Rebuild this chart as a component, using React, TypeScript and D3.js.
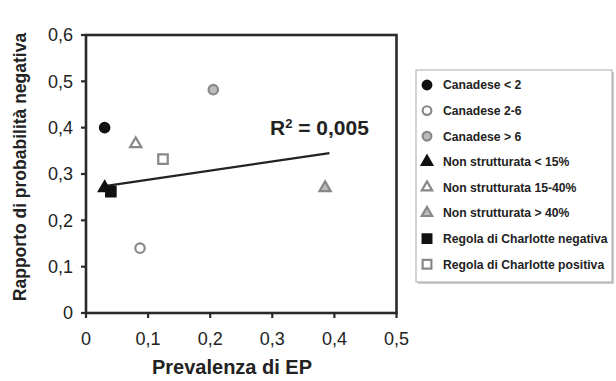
import React from "react";
import * as d3 from "d3";

const seriesNames = [
  "Canadese < 2",
  "Canadese 2-6",
  "Canadese > 6",
  "Non strutturata < 15%",
  "Non strutturata 15-40%",
  "Non strutturata > 40%",
  "Regola di Charlotte negativa",
  "Regola di Charlotte positiva",
];
const prevalence = [0.03, 0.087, 0.205, 0.03, 0.08, 0.385, 0.04, 0.124];
const negRatio = [0.4, 0.14, 0.482, 0.27, 0.365, 0.27, 0.262, 0.332];
const trendX = [0.03, 0.392];
const trendY = [0.274, 0.345];
const xTicks = [0, 0.1, 0.2, 0.3, 0.4, 0.5];
const yTicks = [0, 0.1, 0.2, 0.3, 0.4, 0.5, 0.6];

type Sty = { shape: "circle" | "triangle" | "square"; fill: string; stroke: string };
const styles: Sty[] = [
  { shape: "circle", fill: "#111", stroke: "#111" },
  { shape: "circle", fill: "#fff", stroke: "#888" },
  { shape: "circle", fill: "#bbb", stroke: "#888" },
  { shape: "triangle", fill: "#111", stroke: "#111" },
  { shape: "triangle", fill: "#fff", stroke: "#888" },
  { shape: "triangle", fill: "#bbb", stroke: "#888" },
  { shape: "square", fill: "#111", stroke: "#111" },
  { shape: "square", fill: "#fff", stroke: "#888" },
];

const fmt = (v: number) => (v === 0 ? "0" : d3.format(".1f")(v).replace(".", ","));

function Marker({ x, y, s, scale = 1 }: { x: number; y: number; s: Sty; scale?: number }) {
  const sym =
    s.shape === "circle" ? d3.symbolCircle : s.shape === "triangle" ? d3.symbolTriangle : d3.symbolSquare;
  const size = (s.shape === "circle" ? 70 : s.shape === "triangle" ? 55 : 90) * scale;
  const path = d3.symbol().type(sym).size(size)()!;
  return (
    <path
      d={path}
      transform={`translate(${x},${y})`}
      fill={s.fill}
      stroke={s.stroke}
      strokeWidth={2.2}
    />
  );
}

export default function App() {
  const left = 86, right = 396.5, top = 35, bottom = 313;
  const x = d3.scaleLinear().domain([0, 0.5]).range([left, right]);
  const y = d3.scaleLinear().domain([0, 0.6]).range([bottom, top]);
  const font = "'Liberation Sans', Arial, Helvetica, sans-serif";
  const axisColor = "#2a2a2a";
  const line = d3
    .line<number>()
    .x((_, i) => x(trendX[i]))
    .y((_, i) => y(trendY[i]));

  const legX = 416, legY = 70, legW = 196, legH = 212;
  const legStep = 25.6;

  return (
    <svg
      width={616}
      height={381}
      style={{ position: "absolute", left: 0, top: 0, background: "#fff" }}
      fontFamily={font}
    >
      <rect width={616} height={381} fill="#fff" />
      <rect
        x={left}
        y={top}
        width={right - left}
        height={bottom - top}
        fill="#fff"
        stroke={axisColor}
        strokeWidth={2.6}
      />
      {yTicks.map((t) => (
        <g key={"y" + t}>
          <line x1={left - 5} x2={left} y1={y(t)} y2={y(t)} stroke={axisColor} strokeWidth={2.2} />
          <text x={left - 13} y={y(t)} dy="0.36em" textAnchor="end" fontSize={18} fill="#222">
            {fmt(t)}
          </text>
        </g>
      ))}
      {xTicks.map((t) => (
        <g key={"x" + t}>
          <line x1={x(t)} x2={x(t)} y1={bottom} y2={bottom + 5} stroke={axisColor} strokeWidth={2.2} />
          <text x={x(t)} y={bottom + 32} textAnchor="middle" fontSize={18} fill="#222">
            {fmt(t)}
          </text>
        </g>
      ))}
      <text
        transform={`translate(26,${(top + bottom) / 2 - 7}) rotate(-90)`}
        textAnchor="middle"
        fontSize={17.5}
        fontWeight="bold"
        fill="#222"
      >
        Rapporto di probabilità negativa
      </text>
      <text x={232} y={374} textAnchor="middle" fontSize={20} fontWeight="bold" fill="#222">
        Prevalenza di EP
      </text>
      <path d={line(trendX)!} fill="none" stroke="#222" strokeWidth={2.2} />
      <text x={270} y={135} fontSize={21} fontWeight="bold" fill="#222">
        R<tspan dy={-7} fontSize={13}>2</tspan>
        <tspan dy={7}> = 0,005</tspan>
      </text>
      {seriesNames.map((n, i) => (
        <Marker key={n} x={x(prevalence[i])} y={y(negRatio[i])} s={styles[i]} />
      ))}
      <rect x={legX + 2} y={legY + 2} width={legW} height={legH} fill="#ccc" />
      <rect x={legX} y={legY} width={legW} height={legH} fill="#fff" stroke="#aaa" strokeWidth={1} />
      {seriesNames.map((n, i) => {
        const cy = legY + 15 + i * legStep;
        return (
          <g key={"l" + n}>
            <Marker x={427} y={cy} s={styles[i]} scale={0.85} />
            <text x={443} y={cy} dy="0.36em" fontSize={12.2} fontWeight="bold" fill="#222">
              {n}
            </text>
          </g>
        );
      })}
    </svg>
  );
}
